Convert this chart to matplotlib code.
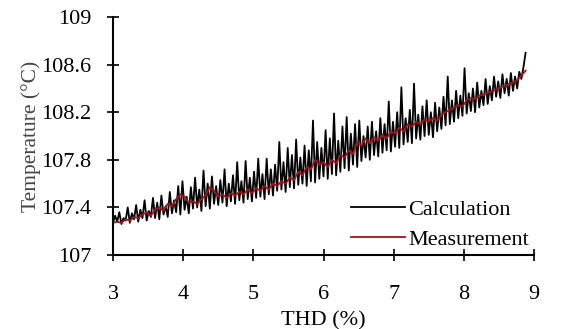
import matplotlib.pyplot as plt

plt.rcParams['font.family'] = ['Liberation Serif', 'DejaVu Serif']

# Calculation (black, noisy)
calc_thd = [
    3.00, 3.03, 3.06, 3.09, 3.12, 3.15, 3.18, 3.21, 3.24, 3.27,
    3.30, 3.33, 3.36, 3.39, 3.42, 3.45, 3.48, 3.51, 3.54, 3.57,
    3.60, 3.63, 3.66, 3.69, 3.72, 3.75, 3.78, 3.81, 3.84, 3.87,
    3.90, 3.93, 3.96, 3.99, 4.02, 4.05, 4.08, 4.11, 4.14, 4.17,
    4.20, 4.23, 4.26, 4.29, 4.32, 4.35, 4.38, 4.41, 4.44, 4.47,
    4.50, 4.53, 4.56, 4.59, 4.62, 4.65, 4.68, 4.71, 4.74, 4.77,
    4.80, 4.83, 4.86, 4.89, 4.92, 4.95, 4.98, 5.01, 5.04, 5.07,
    5.10, 5.13, 5.16, 5.19, 5.22, 5.25, 5.28, 5.31, 5.34, 5.37,
    5.40, 5.43, 5.46, 5.49, 5.52, 5.55, 5.58, 5.61, 5.64, 5.67,
    5.70, 5.73, 5.76, 5.79, 5.82, 5.85, 5.88, 5.91, 5.94, 5.97,
    6.00, 6.03, 6.06, 6.09, 6.12, 6.15, 6.18, 6.21, 6.24, 6.27,
    6.30, 6.33, 6.36, 6.39, 6.42, 6.45, 6.48, 6.51, 6.54, 6.57,
    6.60, 6.63, 6.66, 6.69, 6.72, 6.75, 6.78, 6.81, 6.84, 6.87,
    6.90, 6.93, 6.96, 6.99, 7.02, 7.05, 7.08, 7.11, 7.14, 7.17,
    7.20, 7.23, 7.26, 7.29, 7.32, 7.35, 7.38, 7.41, 7.44, 7.47,
    7.50, 7.53, 7.56, 7.59, 7.62, 7.65, 7.68, 7.71, 7.74, 7.77,
    7.80, 7.83, 7.86, 7.89, 7.92, 7.95, 7.98, 8.01, 8.04, 8.07,
    8.10, 8.13, 8.16, 8.19, 8.22, 8.25, 8.28, 8.31, 8.34, 8.37,
    8.40, 8.43, 8.46, 8.49, 8.52, 8.55, 8.58, 8.61, 8.64, 8.67,
    8.70, 8.73, 8.76, 8.79, 8.82, 8.85, 8.88,
]
calc_temp = [
    107.27, 107.33, 107.28, 107.36, 107.26, 107.31, 107.29, 107.40, 107.27, 107.35,
    107.30, 107.42, 107.28, 107.38, 107.31, 107.46, 107.29, 107.37, 107.32, 107.48,
    107.31, 107.44, 107.30, 107.50, 107.34, 107.41, 107.32, 107.53, 107.35, 107.46,
    107.36, 107.58, 107.34, 107.62, 107.38, 107.49, 107.35, 107.57, 107.39, 107.65,
    107.40, 107.55, 107.37, 107.71, 107.41, 107.60, 107.39, 107.66, 107.43, 107.58,
    107.42, 107.63, 107.44, 107.72, 107.41, 107.60, 107.45, 107.67, 107.43, 107.78,
    107.46, 107.62, 107.44, 107.79, 107.47, 107.65, 107.45, 107.70, 107.48, 107.81,
    107.49, 107.68, 107.47, 107.81, 107.51, 107.72, 107.50, 107.76, 107.54, 107.95,
    107.55, 107.78, 107.53, 107.90, 107.57, 107.84, 107.56, 107.97, 107.59, 107.82,
    107.60, 107.92, 107.58, 107.88, 107.62, 108.13, 107.61, 107.95, 107.64, 107.90,
    107.66, 108.05, 107.64, 107.98, 107.68, 108.19, 107.67, 107.96, 107.70, 108.08,
    107.73, 108.16, 107.71, 108.02, 107.76, 108.10, 107.74, 108.13, 107.79, 108.00,
    107.82, 108.08, 107.80, 108.12, 107.84, 108.04, 107.83, 108.15, 107.86, 108.10,
    107.88, 108.29, 107.87, 108.12, 107.91, 108.20, 107.90, 108.41, 107.93, 108.15,
    107.95, 108.22, 107.94, 108.44, 107.98, 108.18, 107.97, 108.25, 108.00, 108.30,
    108.01, 108.20, 107.99, 108.28, 108.04, 108.24, 108.06, 108.33, 108.09, 108.50,
    108.10, 108.30, 108.12, 108.38, 108.15, 108.34, 108.17, 108.57, 108.19, 108.36,
    108.21, 108.40, 108.20, 108.45, 108.24, 108.38, 108.26, 108.48, 108.27, 108.42,
    108.30, 108.50, 108.33, 108.46, 108.32, 108.52, 108.36, 108.48, 108.34, 108.53,
    108.38, 108.50, 108.40, 108.54, 108.48, 108.58, 108.70,
]

# Measurement (red, smoother)
meas_thd = [
    3.00, 3.06, 3.12, 3.18, 3.24, 3.30, 3.36, 3.42, 3.48, 3.54,
    3.60, 3.66, 3.72, 3.78, 3.84, 3.90, 3.96, 4.02, 4.08, 4.14,
    4.20, 4.26, 4.32, 4.38, 4.44, 4.50, 4.56, 4.62, 4.68, 4.74,
    4.80, 4.86, 4.92, 4.98, 5.04, 5.10, 5.16, 5.22, 5.28, 5.34,
    5.40, 5.46, 5.52, 5.58, 5.64, 5.70, 5.76, 5.82, 5.88, 5.94,
    6.00, 6.06, 6.12, 6.18, 6.24, 6.30, 6.36, 6.42, 6.48, 6.54,
    6.60, 6.66, 6.72, 6.78, 6.84, 6.90, 6.96, 7.02, 7.08, 7.14,
    7.20, 7.26, 7.32, 7.38, 7.44, 7.50, 7.56, 7.62, 7.68, 7.74,
    7.80, 7.86, 7.92, 7.98, 8.04, 8.10, 8.16, 8.22, 8.28, 8.34,
    8.40, 8.46, 8.52, 8.58, 8.64, 8.70, 8.76, 8.82, 8.88,
]
meas_temp = [
    107.27, 107.28, 107.27, 107.30, 107.29, 107.32, 107.31, 107.34, 107.36, 107.33,
    107.38, 107.40, 107.37, 107.43, 107.41, 107.47, 107.51, 107.49, 107.44, 107.45,
    107.43, 107.47, 107.50, 107.57, 107.54, 107.49, 107.51, 107.48, 107.52, 107.50,
    107.53, 107.51, 107.55, 107.52, 107.56, 107.54, 107.58, 107.55, 107.60, 107.58,
    107.62, 107.60, 107.65, 107.63, 107.70, 107.67, 107.74, 107.72, 107.80, 107.76,
    107.78, 107.74, 107.80, 107.77, 107.84, 107.82, 107.88, 107.85, 107.95, 107.92,
    107.98, 107.94, 107.99, 107.96, 108.01, 107.98, 108.04, 108.02, 108.07, 108.04,
    108.10, 108.08, 108.12, 108.10, 108.14, 108.12, 108.15, 108.13, 108.18, 108.20,
    108.22, 108.24, 108.26, 108.25, 108.30, 108.32, 108.31, 108.34, 108.35, 108.36,
    108.38, 108.39, 108.41, 108.42, 108.44, 108.45, 108.47, 108.51, 108.55,
]

fig = plt.figure(figsize=(5.61, 3.29), dpi=100)
ax = fig.add_axes([0.2014, 0.225, 0.7505, 0.723])
ax.plot(calc_thd, calc_temp, color='black', linewidth=1.3, label='Calculation')
ax.plot(meas_thd, meas_temp, color='#a8101e', linewidth=1.3, label='Measurement')

ax.set_xlim(3, 9)
ax.set_ylim(107, 109)
ax.set_xticks([3, 4, 5, 6, 7, 8, 9])
ax.set_yticks([107, 107.4, 107.8, 108.2, 108.6, 109])
ax.set_yticklabels(['107', '107.4', '107.8', '108.2', '108.6', '109'])
ax.spines['top'].set_visible(False)
ax.spines['right'].set_visible(False)
ax.spines['left'].set_linewidth(1.5)
ax.spines['bottom'].set_linewidth(1.5)
ax.tick_params(direction='inout', length=9, width=1.2, labelsize=16)
ax.tick_params(axis='x', pad=17)
ax.tick_params(axis='y', pad=11)
ax.set_xlabel('THD (%)', fontsize=16, labelpad=5)
ax.set_ylabel('Temperature (°C)', fontsize=15.5, color='#444444', labelpad=0)

ax.legend(loc='lower right', bbox_to_anchor=(1.01, -0.015), frameon=False,
          fontsize=16, handlelength=2.45, handletextpad=0.15, labelspacing=0.4,
          borderaxespad=0.0)

fig.savefig('out.png')
